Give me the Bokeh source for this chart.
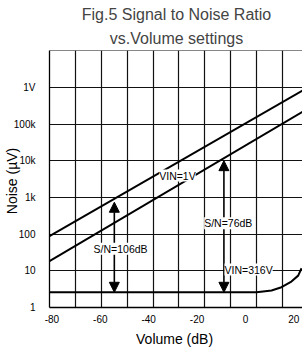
from bokeh.plotting import figure
from bokeh.models import Range1d, FixedTicker, Title, Label, Arrow, NormalHead
from bokeh.embed import file_html
from bokeh.resources import INLINE
import numpy as np

FONT = "Liberation Sans"

# ---- data ----
title_lines = ["Fig.5 Signal to Noise Ratio", "vs.Volume settings"]
x_ticks = [-80, -60, -40, -20, 0, 20]
x_tick_labels = ["-80", "-60", "-40", "-20", "0", "20"]
y_ticks = [1, 10, 100, 1e3, 1e4, 1e5, 1e6]
y_tick_labels = ["1", "10", "100", "1k", "10k", "100k", "1V"]

# upper line (VIN=1V reference) and lower line
upper_x = [-81, 24]
upper_y = [88, 8.5e5]
lower_x = [-81, 24]
lower_y = [18.3, 2.26e5]

# residual noise floor (VIN=316V curve)
noise_x = [-81, 4.6, 10.8, 14.9, 19.0, 21.8, 23.2]
noise_y = [2.6, 2.6, 2.9, 3.57, 5.1, 7.4, 11.8]

# S/N arrows: x, top, bottom
arrow_x = [-54.2, -8.9]
arrow_top = [742, 1.01e4]
arrow_bottom = [2.6, 2.6]

# annotations
ann_text = ["S/N=106dB", "S/N=76dB", "VIN=1V", "VIN=316V"]
ann_x = [-51.6, -7.1, -28.1, 1.3]
ann_y = [39.8, 198, 3970, 10.8]

p = figure(frame_width=254, frame_height=257, x_range=Range1d(-81, 24), y_range=Range1d(1, 1.02e7),
           y_axis_type="log", output_backend="svg", toolbar_location=None,
           min_border_left=40, min_border_right=0, min_border_top=42, min_border_bottom=37,
           background_fill_color="white", border_fill_color="white")
p.outline_line_color = None

# titles: p.title is outermost; later-added 'above' titles sit farther from the frame
p.title.text = "."
p.title.align = "center"
p.title.text_font = FONT
p.title.text_color = "white"
p.title.text_font_size = "2px"
p.title.standoff = 0
p.add_layout(Title(text=title_lines[1], align="center", text_font=FONT,
                   text_font_style="normal", text_font_size="16px", standoff=8), "above")
p.add_layout(Title(text=title_lines[0], align="center", text_font=FONT,
                   text_font_style="normal", text_font_size="16px", standoff=1), "above")

# grids
grid_step = 10.7
p.xgrid.ticker = FixedTicker(ticks=list(-81 + grid_step * np.arange(1, 10)))
p.ygrid.ticker = FixedTicker(ticks=[10, 100, 1e3, 1e4, 1e5, 1e6, 1e7])
for g in (p.xgrid, p.ygrid):
    g.grid_line_color = "#111111"
    g.grid_line_width = 1.2
    g.grid_line_alpha = 1.0

# axes
xa = p.xaxis[0]
xa.ticker = FixedTicker(ticks=x_ticks)
xa.major_label_overrides = {t: l for t, l in zip(x_ticks, x_tick_labels)}
ya = p.yaxis[0]
ya.ticker = FixedTicker(ticks=y_ticks)
ya.major_label_overrides = {t: l for t, l in zip(y_ticks, y_tick_labels)}
for ax in (xa, ya):
    ax.axis_line_color = "black"
    ax.axis_line_width = 1.3
    ax.major_tick_line_color = None
    ax.minor_tick_line_color = None
    ax.major_label_text_font = FONT
    ax.major_label_text_font_size = "10px"
    ax.major_label_text_color = "black"
    ax.axis_label_text_font = FONT
    ax.axis_label_text_font_size = "14px"
    ax.axis_label_text_font_style = "normal"
    ax.axis_label_text_color = "black"
xa.axis_label = "Volume  (dB)"
xa.major_label_standoff = 1
xa.axis_label_standoff = 5
ya.axis_label = "Noise  (\u00b5V)"
ya.major_label_standoff = 8
ya.axis_label_standoff = -9

# curves
p.line(upper_x, upper_y, line_color="black", line_width=2)
p.line(lower_x, lower_y, line_color="black", line_width=2)
p.line(noise_x, noise_y, line_color="black", line_width=2)

# arrows
for x, t, b in zip(arrow_x, arrow_top, arrow_bottom):
    p.add_layout(Arrow(x_start=x, y_start=(t * b) ** 0.5, x_end=x, y_end=t,
                       line_color="black", line_width=1.6,
                       end=NormalHead(size=10, fill_color="black", line_color="black")))
    p.add_layout(Arrow(x_start=x, y_start=(t * b) ** 0.5, x_end=x, y_end=b,
                       line_color="black", line_width=1.6,
                       end=NormalHead(size=10, fill_color="black", line_color="black")))

# labels
for t, x, y in zip(ann_text, ann_x, ann_y):
    p.add_layout(Label(x=x, y=y, text=t, text_align="center", text_baseline="middle",
                       text_font=FONT, text_font_size="10.5px", text_color="black",
                       background_fill_color="white"))

open("out.html", "w").write(file_html(p, INLINE))
